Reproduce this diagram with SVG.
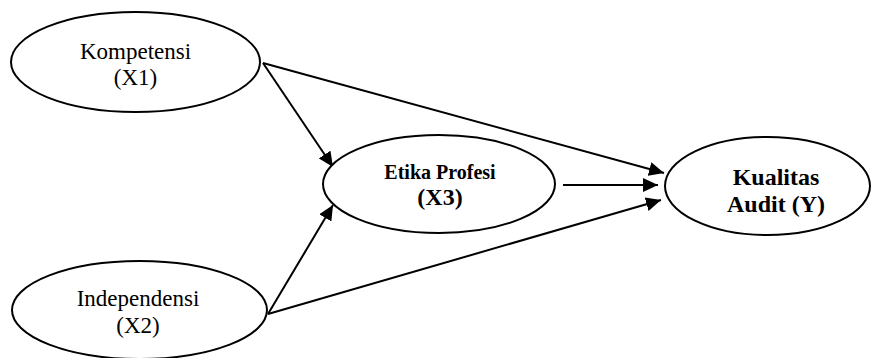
<svg xmlns="http://www.w3.org/2000/svg" width="875" height="358" viewBox="0 0 875 358">
  <style>
    .node ellipse { fill: #ffffff; stroke: #000000; stroke-width: 2; }
    .lbl { font-family: "Liberation Serif", "Times New Roman", serif; font-size: 23px; fill: #000000; text-anchor: middle; }
    .b { font-weight: bold; }
    .edge { stroke: #000000; stroke-width: 2; fill: none; marker-end: url(#arrow); }
  </style>
  <defs>
    <marker id="arrow" markerUnits="userSpaceOnUse" markerWidth="16" markerHeight="14" refX="15" refY="7" orient="auto">
      <path d="M0,0 L15,7 L0,14 Z" fill="#000000"/>
    </marker>
  </defs>
  <rect width="875" height="358" fill="#ffffff"/>

  <g id="connectors">
    <line class="edge" x1="263" y1="63" x2="333" y2="167"/>
    <line class="edge" x1="263" y1="63" x2="664" y2="173"/>
    <line class="edge" x1="268" y1="314" x2="333" y2="205"/>
    <line class="edge" x1="268" y1="314" x2="661" y2="200"/>
    <line class="edge" x1="563" y1="185" x2="658" y2="185"/>
  </g>

  <g id="kompetensi" class="node">
    <ellipse cx="135.5" cy="62" rx="124.5" ry="50"/>
    <text class="lbl" x="135.5" y="58.5">Kompetensi</text>
    <text class="lbl" x="135.5" y="85">(X1)</text>
  </g>

  <g id="independensi" class="node">
    <ellipse cx="139.5" cy="310" rx="127.5" ry="49"/>
    <text class="lbl" x="138" y="306">Independensi</text>
    <text class="lbl" x="138" y="333">(X2)</text>
  </g>

  <g id="etika-profesi" class="node">
    <ellipse cx="439" cy="184" rx="116" ry="49"/>
    <text class="lbl b" x="440" y="179" style="font-size:20px">Etika Profesi</text>
    <text class="lbl b" x="440" y="205" style="font-size:24px">(X3)</text>
  </g>

  <g id="kualitas-audit" class="node">
    <ellipse cx="767.5" cy="186" rx="102.5" ry="49"/>
    <text class="lbl b" x="776" y="185" style="font-size:24px">Kualitas</text>
    <text class="lbl b" x="776" y="212" style="font-size:24px">Audit (Y)</text>
  </g>
</svg>
